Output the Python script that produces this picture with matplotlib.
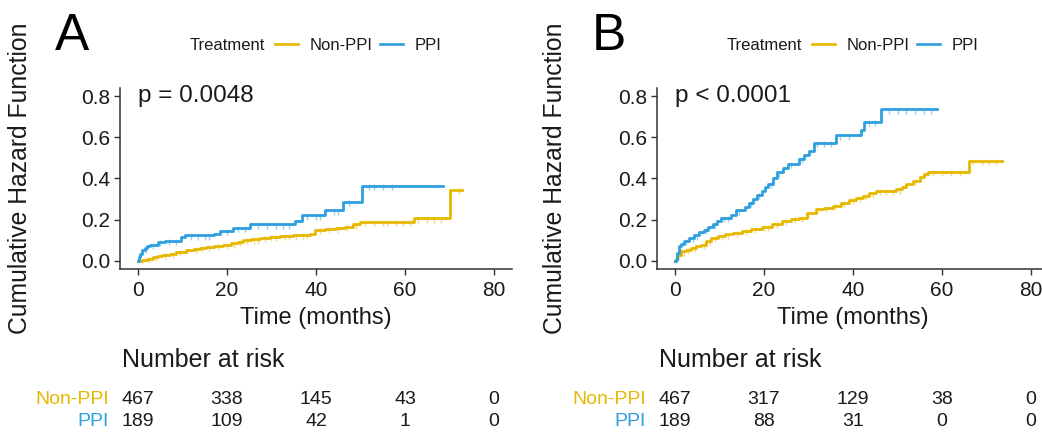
import numpy as np
import matplotlib.pyplot as plt
from matplotlib.lines import Line2D
from matplotlib.transforms import blended_transform_factory

plt.rcParams['font.family'] = ['Liberation Sans', 'DejaVu Sans']

# --- data ---
# panel A
a_non_t = [0, 1.0, 2.0, 3.4, 4.5, 5.5, 7.2, 8.5, 10.9, 12.5, 14.0, 15.4, 17.0, 19.2, 21.0, 22.5,
           23.7, 25.5, 27.5, 29.7, 32.0, 34.9, 36.5, 38.7, 39.8, 42.0, 44.6, 46.5, 48.4, 49.9,
           61.9, 70.1, 72.7]
a_non_v = [0, 0.005, 0.01, 0.018, 0.024, 0.028, 0.034, 0.042, 0.054, 0.058, 0.063, 0.067, 0.072,
           0.078, 0.085, 0.092, 0.100, 0.104, 0.110, 0.116, 0.120, 0.123, 0.126, 0.128, 0.152,
           0.154, 0.157, 0.165, 0.177, 0.188, 0.206, 0.345, 0.345]
a_ppi_t = [0, 0.3, 0.6, 1.0, 1.5, 2.0, 2.7, 4.5, 6.0, 9.8, 10.5, 17.0, 18.4, 21.4, 25.2, 35.3,
           36.8, 42.0, 46.1, 50.3, 68.5]
a_ppi_v = [0, 0.02, 0.035, 0.05, 0.06, 0.07, 0.079, 0.09, 0.095, 0.116, 0.123, 0.13, 0.147,
           0.16, 0.177, 0.193, 0.221, 0.245, 0.288, 0.365, 0.365]
a_non_cens = [2.5, 4, 6, 8, 9.5, 11, 13, 14.5, 16, 18, 20, 21.5, 23, 24.5, 26, 27, 28.5, 30, 31,
              33, 34, 35.5, 37, 38, 41, 43, 45, 47, 49, 51, 53, 55, 56, 58, 59.5, 61, 63, 65,
              66.5, 68, 72]
a_ppi_cens = [1.8, 3.5, 5, 7, 8.5, 12, 13.5, 15, 16, 20, 22.5, 24, 27, 29, 31, 32.5, 34, 38,
              40, 41, 44, 45, 47.5, 52, 53, 55, 57]

# panel B
b_non_t = [0, 0.2, 0.6, 1.36, 2.5, 3.6, 4.8, 5.9, 7.0, 8.2, 9.7, 11.2, 13.0, 15.0, 17.2, 19.5,
           21.8, 24.0, 26.0, 27.8, 29.7, 31.6, 33.5, 35.4, 37.2, 39.1, 40.6, 42.2, 43.7, 45.2,
           49.7, 51.0, 52.0, 53.5, 55.0, 56.0, 56.9, 66.0, 73.5]
b_non_v = [0, 0.01, 0.03, 0.046, 0.054, 0.062, 0.07, 0.079, 0.095, 0.111, 0.12, 0.128, 0.136,
           0.144, 0.154, 0.165, 0.178, 0.193, 0.202, 0.21, 0.23, 0.25, 0.258, 0.267, 0.28, 0.296,
           0.306, 0.316, 0.328, 0.34, 0.347, 0.36, 0.373, 0.389, 0.406, 0.42, 0.433, 0.487, 0.487]
b_ppi_t = [0, 0.2, 0.5, 1.0, 1.5, 2.1, 3.2, 4.4, 5.5, 6.6, 7.5, 8.5, 9.5, 10.4, 12.7, 13.8, 15.7,
           16.6, 17.6, 18.5, 19.5, 20.2, 21.0, 22.0, 22.9, 24.2, 25.5, 27.8, 29.0, 30.1, 31.2,
           36.1, 41.8, 42.5, 46.3, 58.8]
b_ppi_v = [0, 0.005, 0.04, 0.07, 0.083, 0.095, 0.11, 0.123, 0.138, 0.152, 0.165, 0.177, 0.195,
           0.21, 0.221, 0.245, 0.263, 0.28, 0.3, 0.32, 0.34, 0.358, 0.373, 0.4, 0.43, 0.45, 0.47,
           0.496, 0.515, 0.536, 0.574, 0.61, 0.635, 0.676, 0.736, 0.736]
b_non_cens = [1, 2, 3, 4.5, 6.5, 8, 9, 10.5, 12, 14, 16, 18, 20, 21, 23, 25, 27, 28.5, 30, 32,
              34, 36, 38, 40, 41.5, 43, 44.5, 46, 47.5, 49, 50.5, 54, 58, 60, 62, 64, 67, 69,
              70.5, 72]
b_ppi_cens = [1.2, 2.5, 4, 5, 7, 9, 11, 12, 14.5, 17, 19, 21.5, 23.5, 26, 28.5, 32, 33.5, 35,
              37, 39, 43.5, 45, 48, 50, 52, 54, 56, 57.5]

p_text = ['p = 0.0048', 'p < 0.0001']
panel_tags = ['A', 'B']
risk_times = [0, 20, 40, 60, 80]
risk_non = [[467, 338, 145, 43, 0], [467, 317, 129, 38, 0]]
risk_ppi = [[189, 109, 42, 1, 0], [189, 88, 31, 0, 0]]

c_non = '#E7B800'
c_ppi = '#2E9FDF'
c_non_l = '#F2D97A'
c_ppi_l = '#9CCFEE'
dark = '#1a1a1a'


def step_at(t, v, x):
    t = np.asarray(t)
    v = np.asarray(v)
    idx = np.searchsorted(t, x, side='right') - 1
    return v[np.clip(idx, 0, len(v) - 1)]


fig = plt.figure(figsize=(10.42, 4.33), dpi=100)
W, H = 1042.0, 433.0

panels = [
    (a_non_t, a_non_v, a_ppi_t, a_ppi_v, a_non_cens, a_ppi_cens, 120),
    (b_non_t, b_non_v, b_ppi_t, b_ppi_v, b_non_cens, b_ppi_cens, 657),
]

for i, (nt, nv, pt, pv, nc, pc, left_px) in enumerate(panels):
    off = 0 if i == 0 else 537
    ax = fig.add_axes([left_px / W, 1 - 269 / H, 392 / W, 181 / H])

    # censor ticks (lighter), then curves
    nc = np.array(nc)
    pc = np.array(pc)
    ax.plot(nc, step_at(nt, nv, nc) - 0.006, '|', color=c_non_l, ms=5, mew=1, zorder=2)
    ax.plot(pc, step_at(pt, pv, pc) - 0.006, '|', color=c_ppi_l, ms=5, mew=1, zorder=2)
    ax.step(nt, nv, where='post', color=c_non, lw=2.0, zorder=3)
    ax.step(pt, pv, where='post', color=c_ppi, lw=2.0, zorder=3)

    ax.set_xlim(-4, 84)
    ax.set_ylim(-0.04, 0.84)
    ax.set_xticks([0, 20, 40, 60, 80])
    ax.set_yticks([0.0, 0.2, 0.4, 0.6, 0.8])
    ax.set_yticklabels(['0.0', '0.2', '0.4', '0.6', '0.8'])
    for s in ['top', 'right']:
        ax.spines[s].set_visible(False)
    for s in ['left', 'bottom']:
        ax.spines[s].set_color('#333333')
        ax.spines[s].set_linewidth(1.1)
    ax.tick_params(axis='both', labelsize=15, colors='#333333', labelcolor=dark,
                   length=4, width=1.0)
    ax.tick_params(axis='x', pad=5)
    ax.tick_params(axis='y', pad=3)
    ax.set_xlabel('Time (months)', fontsize=17, color=dark, labelpad=5)

    ax.text(0, 0.8, p_text[i], fontsize=17.5, color=dark, ha='left', va='center')

    fig.text((20 + off + (0 if i == 0 else -2)) / W, 1 - 178 / H, 'Cumulative Hazard Function',
             rotation=90, fontsize=17.8, color=dark, ha='center', va='center')

    fig.text((55 + off) / W, 1 - 50 / H, panel_tags[i], fontsize=37, color='black',
             ha='left', va='baseline')

    # legend row
    ly = 1 - 46 / H
    fig.text((190 + off) / W, ly, 'Treatment', fontsize=12, color=dark, ha='left', va='center')
    fig.add_artist(Line2D([(275 + off) / W, (298 + off) / W], [1 - 44 / H] * 2,
                          color=c_non, lw=1.9))
    fig.text((310 + off) / W, ly, 'Non-PPI', fontsize=12, color=dark, ha='left', va='center')
    fig.add_artist(Line2D([(380 + off) / W, (403 + off) / W], [1 - 44 / H] * 2,
                          color=c_ppi, lw=1.9))
    fig.text((415 + off) / W, ly, 'PPI', fontsize=12, color=dark, ha='left', va='center')

    # risk table
    tr = blended_transform_factory(ax.transData, fig.transFigure)
    tra = blended_transform_factory(ax.transAxes, fig.transFigure)
    ax.text(0.005, 1 - 360 / H, 'Number at risk', transform=tra, fontsize=18, color=dark,
            ha='left', va='center', clip_on=False)
    y1, y2 = 1 - 400 / H, 1 - 422 / H
    ax.text(-6.5, y1, 'Non-PPI', transform=tr, fontsize=14, color=c_non, ha='right',
            va='center', clip_on=False)
    ax.text(-6.5, y2, 'PPI', transform=tr, fontsize=14, color=c_ppi, ha='right',
            va='center', clip_on=False)
    for t, n1, n2 in zip(risk_times, risk_non[i], risk_ppi[i]):
        ax.text(t, y1, str(n1), transform=tr, fontsize=14, color=dark, ha='center',
                va='center', clip_on=False)
        ax.text(t, y2, str(n2), transform=tr, fontsize=14, color=dark, ha='center',
                va='center', clip_on=False)

fig.savefig('out.png', dpi=100)
